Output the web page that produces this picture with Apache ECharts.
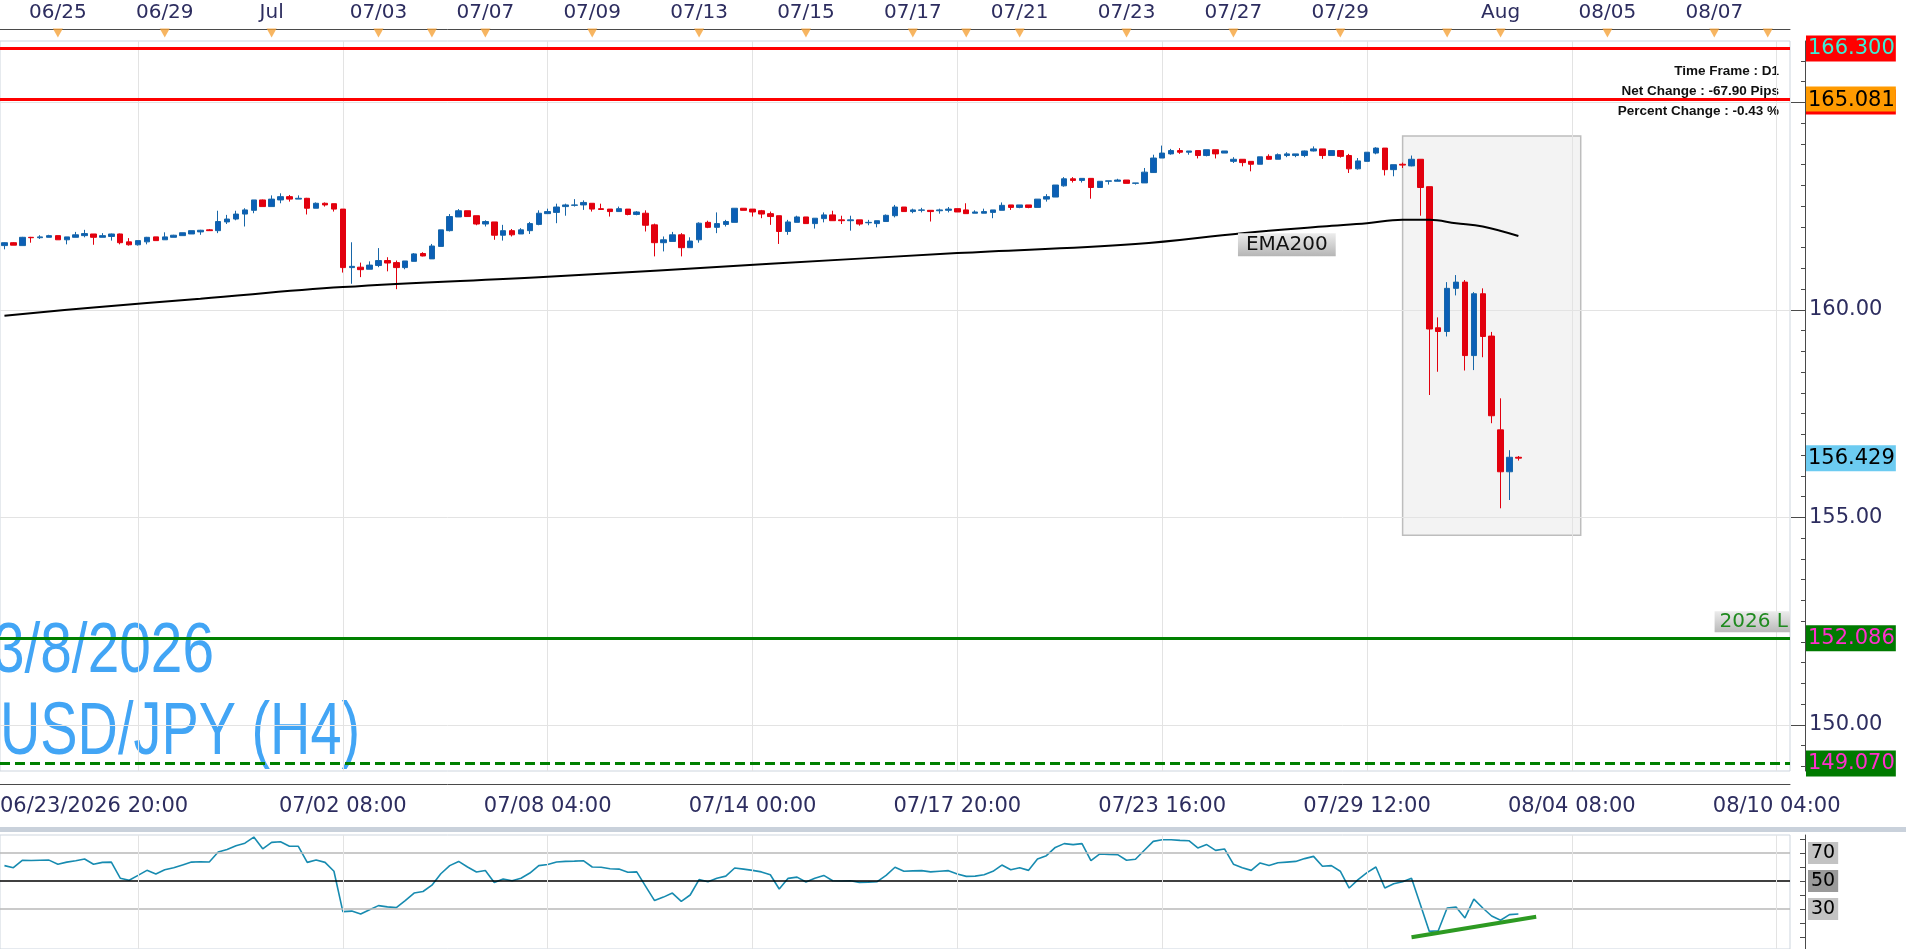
<!DOCTYPE html>
<html>
<head>
<meta charset="utf-8">
<script src="https://cdn.jsdelivr.net/npm/echarts@6/dist/echarts.min.js"></script>
</head>
<body style="margin:0; background:#fff">
<div id="chart" style="width:1906px; height:949px"></div>
<script type="text/javascript">

// ---- bar slots (H4 bars, one per slot) ----
var barCount = 201;
var categories = [];
for (var i = 0; i < barCount; i++) {
    categories.push(String(i));
}

// bottom time axis
var bottomTickIdx = [15, 38, 61, 84, 107, 130, 153, 176, 199];
var bottomTickText = ['06/23/2026 20:00', '07/02 08:00', '07/08 04:00', '07/14 00:00',
    '07/17 20:00', '07/23 16:00', '07/29 12:00', '08/04 08:00', '08/10 04:00'];

// top (daily) axis
var topTickIdx = [6, 18, 30, 42, 54, 66, 78, 90, 102, 114, 126, 138, 150, 168, 180, 192];
var topTickText = ['06/25', '06/29', 'Jul', '07/03', '07/07', '07/09', '07/13', '07/15',
    '07/17', '07/21', '07/23', '07/27', '07/29', 'Aug', '08/05', '08/07'];
var topMarkIdx = [6, 18, 30, 42, 48, 54, 66, 78, 90, 102, 108, 114, 126, 138, 150, 162, 168, 180, 192, 198];

// price axis
var priceMajor = [150, 155, 160, 165];
var priceLabels = [150, 155, 160];
var priceMinor = [149, 149.5, 150, 150.5, 151, 151.5, 152, 152.5, 153, 153.5, 154, 154.5,
    155, 155.5, 156, 156.5, 157, 157.5, 158, 158.5, 159, 159.5, 160, 160.5, 161, 161.5,
    162, 162.5, 163, 163.5, 164, 164.5, 165, 165.5, 166];

// price levels with their boxes on the right
var levelValues = [166.3, 165.081, 156.429, 152.086, 149.07];
var levelText = ['166.300', '165.081', '156.429', '152.086', '149.070'];
var levelKey = ['red', 'orange', 'blue', 'green', 'green'];

// highlight box (bar slots / prices)
var boxIdx = [157, 177];
var boxPrice = [164.19, 154.57];

// [open, close, low, high]
var candles = [
    [161.55, 161.62, 161.46, 161.63], [161.62, 161.56, 161.56, 161.63], [161.55, 161.75, 161.55, 161.76],
    [161.75, 161.74, 161.62, 161.76], [161.74, 161.76, 161.71, 161.80], [161.75, 161.79, 161.75, 161.81],
    [161.79, 161.69, 161.69, 161.79], [161.69, 161.76, 161.58, 161.76], [161.75, 161.81, 161.75, 161.88],
    [161.79, 161.84, 161.75, 161.93], [161.83, 161.75, 161.57, 161.83], [161.75, 161.79, 161.75, 161.85],
    [161.77, 161.83, 161.67, 161.84], [161.83, 161.62, 161.58, 161.84], [161.64, 161.57, 161.55, 161.73],
    [161.57, 161.67, 161.55, 161.67], [161.64, 161.75, 161.58, 161.76], [161.76, 161.67, 161.67, 161.76],
    [161.69, 161.76, 161.69, 161.87], [161.75, 161.80, 161.75, 161.81], [161.79, 161.86, 161.79, 161.86],
    [161.83, 161.91, 161.83, 161.91], [161.88, 161.92, 161.81, 161.93], [161.93, 161.91, 161.91, 161.95],
    [161.91, 162.13, 161.85, 162.39], [162.12, 162.19, 162.07, 162.29], [162.19, 162.31, 162.16, 162.39],
    [162.31, 162.41, 162.01, 162.45], [162.40, 162.65, 162.33, 162.65], [162.65, 162.49, 162.49, 162.66],
    [162.49, 162.67, 162.49, 162.76], [162.65, 162.73, 162.57, 162.81], [162.73, 162.67, 162.61, 162.77],
    [162.67, 162.69, 162.67, 162.76], [162.69, 162.45, 162.30, 162.70], [162.45, 162.57, 162.45, 162.59],
    [162.57, 162.53, 162.49, 162.59], [162.56, 162.43, 162.37, 162.56], [162.43, 161.02, 160.90, 162.43],
    [161.02, 161.05, 160.63, 161.63], [161.03, 160.97, 160.79, 161.14], [160.98, 161.08, 160.98, 161.17],
    [161.07, 161.19, 161.03, 161.49], [161.19, 161.13, 160.93, 161.27], [161.14, 161.02, 160.50, 161.19],
    [161.02, 161.18, 160.98, 161.18], [161.17, 161.35, 161.17, 161.37], [161.36, 161.30, 161.29, 161.39],
    [161.23, 161.54, 161.23, 161.59], [161.53, 161.93, 161.53, 161.93], [161.91, 162.25, 161.89, 162.31],
    [162.24, 162.39, 162.24, 162.43], [162.39, 162.25, 162.25, 162.39], [162.27, 162.07, 162.04, 162.27],
    [162.07, 162.13, 162.01, 162.16], [162.12, 161.80, 161.69, 162.12], [161.80, 161.91, 161.67, 162.05],
    [161.91, 161.81, 161.77, 161.95], [161.83, 161.93, 161.83, 161.97], [161.91, 162.08, 161.83, 162.12],
    [162.06, 162.33, 162.04, 162.40], [162.32, 162.37, 162.31, 162.44], [162.35, 162.48, 162.09, 162.56],
    [162.49, 162.53, 162.27, 162.56], [162.52, 162.53, 162.49, 162.67], [162.53, 162.59, 162.41, 162.64],
    [162.57, 162.43, 162.37, 162.57], [162.44, 162.42, 162.42, 162.56], [162.43, 162.37, 162.25, 162.43],
    [162.37, 162.44, 162.37, 162.49], [162.43, 162.30, 162.28, 162.43], [162.30, 162.36, 162.28, 162.38],
    [162.33, 162.04, 161.89, 162.40], [162.05, 161.62, 161.29, 162.08], [161.62, 161.69, 161.41, 161.77],
    [161.65, 161.81, 161.65, 161.88], [161.81, 161.50, 161.29, 161.85], [161.50, 161.66, 161.50, 161.75],
    [161.69, 162.09, 161.62, 162.11], [162.11, 161.99, 161.97, 162.15], [161.99, 162.08, 161.85, 162.35],
    [162.06, 162.13, 162.01, 162.17], [162.11, 162.45, 162.11, 162.45], [162.45, 162.40, 162.40, 162.45],
    [162.43, 162.36, 162.25, 162.43], [162.39, 162.31, 162.21, 162.41], [162.32, 162.25, 162.05, 162.37],
    [162.27, 161.89, 161.59, 162.27], [161.89, 162.12, 161.81, 162.17], [162.11, 162.24, 162.11, 162.27],
    [162.24, 162.08, 162.08, 162.24], [162.08, 162.21, 161.96, 162.21], [162.20, 162.29, 162.11, 162.35],
    [162.29, 162.15, 162.15, 162.39], [162.17, 162.15, 162.07, 162.27], [162.15, 162.17, 161.91, 162.27],
    [162.17, 162.07, 162.03, 162.17], [162.10, 162.11, 162.04, 162.17], [162.08, 162.15, 161.99, 162.15],
    [162.13, 162.28, 162.13, 162.30], [162.27, 162.48, 162.23, 162.53], [162.48, 162.37, 162.37, 162.48],
    [162.37, 162.41, 162.33, 162.44], [162.40, 162.41, 162.35, 162.46], [162.40, 162.37, 162.13, 162.40],
    [162.39, 162.41, 162.32, 162.44], [162.40, 162.43, 162.35, 162.48], [162.44, 162.36, 162.36, 162.44],
    [162.41, 162.32, 162.32, 162.57], [162.33, 162.36, 162.33, 162.40], [162.33, 162.37, 162.33, 162.44],
    [162.35, 162.41, 162.21, 162.41], [162.40, 162.52, 162.40, 162.59], [162.53, 162.47, 162.41, 162.53],
    [162.47, 162.53, 162.45, 162.53], [162.53, 162.47, 162.45, 162.53], [162.47, 162.67, 162.47, 162.67],
    [162.67, 162.73, 162.61, 162.79], [162.72, 163.01, 162.72, 163.01], [162.99, 163.16, 162.97, 163.20],
    [163.16, 163.12, 163.07, 163.20], [163.12, 163.17, 163.07, 163.17], [163.17, 162.95, 162.68, 163.17],
    [162.95, 163.10, 162.95, 163.10], [163.10, 163.11, 163.02, 163.11], [163.10, 163.13, 163.10, 163.16],
    [163.13, 163.05, 163.05, 163.13], [163.05, 163.06, 163.02, 163.06], [163.06, 163.32, 163.06, 163.42],
    [163.31, 163.66, 163.30, 163.74], [163.66, 163.78, 163.66, 163.96], [163.76, 163.84, 163.74, 163.88],
    [163.84, 163.80, 163.76, 163.90], [163.80, 163.83, 163.74, 163.83], [163.84, 163.72, 163.65, 163.84],
    [163.72, 163.86, 163.70, 163.86], [163.86, 163.76, 163.65, 163.86], [163.78, 163.83, 163.78, 163.83],
    [163.58, 163.63, 163.54, 163.68], [163.63, 163.55, 163.46, 163.63], [163.58, 163.51, 163.34, 163.58],
    [163.51, 163.69, 163.51, 163.69], [163.70, 163.63, 163.62, 163.75], [163.63, 163.74, 163.63, 163.77],
    [163.72, 163.76, 163.68, 163.80], [163.72, 163.76, 163.68, 163.76], [163.72, 163.83, 163.68, 163.84],
    [163.83, 163.88, 163.82, 163.94], [163.88, 163.72, 163.64, 163.88], [163.72, 163.84, 163.72, 163.84],
    [163.84, 163.70, 163.67, 163.84], [163.72, 163.40, 163.30, 163.76], [163.40, 163.59, 163.38, 163.66],
    [163.58, 163.80, 163.58, 163.80], [163.78, 163.90, 163.75, 163.92], [163.90, 163.38, 163.24, 163.90],
    [163.38, 163.50, 163.22, 163.50], [163.51, 163.49, 163.42, 163.55], [163.47, 163.63, 163.46, 163.72],
    [163.63, 162.95, 162.27, 163.63], [162.97, 159.54, 157.95, 162.97], [159.57, 159.48, 158.51, 159.82],
    [159.48, 160.52, 159.36, 160.67], [160.52, 160.67, 160.35, 160.84], [160.67, 158.90, 158.54, 160.72],
    [158.90, 160.39, 158.55, 160.43], [160.39, 159.36, 158.86, 160.52], [159.37, 157.45, 157.27, 159.47],
    [157.11, 156.10, 155.22, 157.87], [156.10, 156.45, 155.42, 156.62], [156.45, 156.429, 156.37, 156.48]
];

// EMA200: bar slot / value
var emaIdx = [0, 10, 22, 38, 61, 86, 107, 127, 139, 148, 153, 157, 160, 163, 166, 170];
var emaVal = [159.86, 160.06, 160.27, 160.55, 160.80, 161.11, 161.37, 161.59, 161.85, 162.01,
    162.09, 162.17, 162.17, 162.09, 162.01, 161.78];
var emaLabelAt = [144, 161.57];

// RSI, one value per bar
var rsi = [
    61, 59.5, 64.8, 64.6, 64.8, 64.9, 62, 63.5, 64.5, 65.7,
    62, 63.3, 63.5, 52, 50.5, 54, 57.6, 55, 58, 59.5,
    61.5, 63.5, 63.8, 63.6, 70.7, 72.5, 75.2, 77, 81.4, 73,
    77.6, 78, 74.8, 74.8, 63.3, 65, 63.3, 57, 28.1, 28.5,
    26.4, 29.5, 32.4, 31.5, 31, 36, 41.4, 42.5, 47, 55.2,
    61, 64, 60, 56.4, 57.5, 49, 51.4, 50.2, 52, 55.7,
    61, 61.8, 63.6, 64, 64.2, 64.5, 60, 59.8, 58.8, 58.5,
    56.2, 56.5, 46.2, 36, 38.5, 41.4, 35.5, 40, 51, 49.5,
    52, 53.5, 59.3, 58.5, 57.6, 56.5, 54.5, 44.3, 51.9, 52.8,
    49.3, 52, 54, 50.2, 50, 50.2, 49, 49.2, 49.5, 54,
    59.8, 57, 57.2, 57.4, 56.5, 57, 57.4, 55, 53.3, 53.5,
    54.5, 56.9, 61.4, 58, 59.5, 57.6, 65.7, 68.1, 74, 76.7,
    76, 76.7, 64.5, 69.3, 69, 68.8, 64.8, 65.5, 72, 78.3,
    79.5, 79.5, 79, 78.8, 73.6, 76, 71.9, 72.9, 62, 59.5,
    57.6, 62.9, 61, 63, 63.5, 64, 66, 67.6, 60.5, 61,
    57, 45, 51, 56, 60, 45, 48, 49.5, 52, 33,
    14, 14.5, 30.7, 31.4, 23.6, 37.1, 30.7, 25, 22, 26,
    26.4
];
var rsiLevels = [70, 50, 30];
var rsiTicks = [10, 20, 30, 40, 50, 60, 70, 80];
var rsiTrendIdx = [158, 172];
var rsiTrendVal = [9.8, 24.5];

var axisFont = 'DejaVu Sans';
var axisColor = '#2d2d5f';

function inList(list) {
    return function (index) { return list.indexOf(index) >= 0; };
}
function bottomMinor(index) {
    var r = ((index - 15) % 23 + 23) % 23;
    return r !== 0 && r % 3 === 0;
}
function topMinor(index) {
    return index % 2 === 1;
}
function grayGrad(a, b) {
    return new echarts.graphic.LinearGradient(0, 0, 0, 1, [
        {offset: 0, color: a}, {offset: 1, color: b}
    ]);
}

var vGrid = bottomTickIdx.map(function (k) {
    return {xAxis: k, lineStyle: {color: '#e3e3e3', width: 1, type: 'solid'}};
});
var hGrid = priceMajor.map(function (v) {
    return {yAxis: v, lineStyle: {color: '#e3e3e3', width: 1, type: 'solid'}};
});

var dom = document.getElementById('chart');
var myChart = echarts.init(dom);

var option = {
    animation: false,
    backgroundColor: '#ffffff',
    grid: [
        {left: 0, right: 116, top: 41, height: 730, show: true, borderColor: '#cdd5de', borderWidth: 1,
            outerBoundsMode: 'none', containLabel: false},
        {left: 0, right: 116, top: 835, height: 114, show: true, borderColor: '#cdd5de', borderWidth: 1,
            outerBoundsMode: 'none', containLabel: false},
        {left: 0, right: 116, top: 29, height: 12, outerBoundsMode: 'none', containLabel: false}
    ],
    xAxis: [
        {
            gridIndex: 0, type: 'category', data: categories, position: 'bottom', offset: 13,
            axisLine: {onZero: false, lineStyle: {color: '#4a4a4a'}},
            axisTick: {inside: true, length: 13, alignWithLabel: true, interval: inList(bottomTickIdx),
                lineStyle: {color: '#4a4a4a'}},
            axisLabel: {
                interval: inList(bottomTickIdx), margin: 12,
                fontFamily: axisFont, fontSize: 21, color: axisColor,
                formatter: function (value, index) {
                    var j = bottomTickIdx.indexOf(index);
                    if (j < 0) return '';
                    return j === 0 ? '{first|' + bottomTickText[j] + '}' : bottomTickText[j];
                },
                rich: {
                    first: {fontFamily: axisFont, fontSize: 21, color: axisColor, padding: [0, 88, 0, 0]}
                }
            },
            splitLine: {show: false}
        },
        {
            gridIndex: 0, type: 'category', data: categories, position: 'bottom', offset: 13,
            axisLine: {show: false, onZero: false},
            axisTick: {inside: true, length: 6, alignWithLabel: true, interval: bottomMinor,
                lineStyle: {color: '#4a4a4a'}},
            axisLabel: {show: false},
            splitLine: {show: false}
        },
        {gridIndex: 1, type: 'category', data: categories, show: false},
        {
            gridIndex: 2, type: 'category', data: categories, position: 'top',
            axisLine: {onZero: false, lineStyle: {color: '#4a4a4a'}},
            axisTick: {inside: true, length: 12, alignWithLabel: true, interval: inList(topMarkIdx),
                lineStyle: {color: '#4a4a4a'}},
            axisLabel: {
                interval: inList(topTickIdx), margin: 6,
                fontFamily: axisFont, fontSize: 20, color: axisColor,
                formatter: function (value, index) {
                    var j = topTickIdx.indexOf(index);
                    return j < 0 ? '' : topTickText[j];
                }
            },
            splitLine: {show: false}
        },
        {
            gridIndex: 2, type: 'category', data: categories, position: 'top',
            axisLine: {show: false, onZero: false},
            axisTick: {inside: true, length: 4, alignWithLabel: true, interval: topMinor,
                lineStyle: {color: '#4a4a4a'}},
            axisLabel: {show: false},
            splitLine: {show: false}
        }
    ],
    yAxis: [
        {
            gridIndex: 0, type: 'value', position: 'right', offset: 15, min: 148.89, max: 166.48,
            axisLine: {show: true, lineStyle: {color: '#4a4a4a'}},
            axisTick: {show: true, inside: true, length: 14, customValues: priceMajor, lineStyle: {color: '#4a4a4a'}},
            axisLabel: {
                customValues: priceLabels, margin: 4,
                fontFamily: axisFont, fontSize: 21, color: axisColor,
                formatter: function (v) { return v.toFixed(2); }
            },
            splitLine: {show: false}
        },
        {
            gridIndex: 0, type: 'value', position: 'right', offset: 15, min: 148.89, max: 166.48,
            axisLine: {show: false},
            axisTick: {show: true, inside: true, length: 4, customValues: priceMinor, lineStyle: {color: '#4a4a4a'}},
            axisLabel: {show: false},
            splitLine: {show: false}
        },
        {
            gridIndex: 0, type: 'value', position: 'right', offset: 15, min: 148.89, max: 166.48,
            axisLine: {show: false},
            axisTick: {show: false},
            axisLabel: {
                customValues: levelValues, margin: 1,
                formatter: function (v) {
                    for (var j = 0; j < levelValues.length; j++) {
                        if (Math.abs(levelValues[j] - v) < 1e-6) {
                            return '{' + levelKey[j] + '|' + levelText[j] + '}';
                        }
                    }
                    return '';
                },
                rich: {
                    red: {backgroundColor: '#ff0000', color: '#3cefd6', fontFamily: axisFont, fontSize: 21,
                        lineHeight: 23, padding: [3, 1, 2, 2]},
                    orange: {backgroundColor: '#ff9a00', color: '#000000', fontFamily: axisFont, fontSize: 21,
                        lineHeight: 23, padding: [3, 1, 1, 2], borderColor: '#ff0000',
                        shadowColor: '#ff0000', shadowOffsetY: 3},
                    blue: {backgroundColor: '#6ccbf1', color: '#000000', fontFamily: axisFont, fontSize: 21,
                        lineHeight: 23, padding: [3, 1, 2, 2]},
                    green: {backgroundColor: '#007a00', color: '#ff30cc', fontFamily: axisFont, fontSize: 21,
                        lineHeight: 23, padding: [3, 1, 2, 2]}
                }
            },
            splitLine: {show: false}
        },
        {
            gridIndex: 1, type: 'value', position: 'right', offset: 15, min: 1.43, max: 82.86,
            axisLine: {show: true, lineStyle: {color: '#4a4a4a'}},
            axisTick: {show: true, inside: true, length: 5, customValues: rsiTicks, lineStyle: {color: '#4a4a4a'}},
            axisLabel: {
                customValues: rsiLevels, margin: 3,
                formatter: function (v) {
                    return (v === 50 ? '{dark|' : '{light|') + v + '}';
                },
                rich: {
                    light: {backgroundColor: '#c3c3c3', color: '#000', fontFamily: axisFont, fontSize: 19,
                        lineHeight: 21, padding: [2, 3, 1, 3]},
                    dark: {backgroundColor: '#9a9a9a', color: '#000', fontFamily: axisFont, fontSize: 19,
                        lineHeight: 21, padding: [2, 3, 1, 3]}
                }
            },
            splitLine: {show: false}
        },
        {gridIndex: 2, type: 'value', min: 0, max: 12, inverse: true, show: false}
    ],
    graphic: [
        {type: 'rect', silent: true, shape: {x: 0, y: 827, width: 1906, height: 5}, style: {fill: '#c9d1db'}},
        {
            type: 'text', silent: true, x: 1779, y: 61,
            style: {
                text: 'Time Frame : D1\nNet Change : -67.90 Pips\nPercent Change : -0.43 %',
                align: 'right', verticalAlign: 'top', lineHeight: 20,
                font: 'bold 13.5px "Liberation Sans", Arial, sans-serif', fill: '#111111'
            }
        },
        {
            type: 'text', silent: true, x: 214, y: 652, scaleX: 0.8,
            style: {
                text: '3/8/2026', align: 'right', verticalAlign: 'middle',
                font: '71px "Liberation Sans", Arial, sans-serif', fill: '#42a5f5'
            }
        },
        {
            type: 'text', silent: true, x: 0, y: 734, scaleX: 0.755,
            style: {
                text: 'USD/JPY (H4)', align: 'left', verticalAlign: 'middle',
                font: '74px "Liberation Sans", Arial, sans-serif', fill: '#42a5f5'
            }
        }
    ],
    series: [
        {
            name: 'gridlines', type: 'line', xAxisIndex: 0, yAxisIndex: 0, data: [],
            markLine: {
                silent: true, symbol: ['none', 'none'], z: 1, label: {show: false},
                data: vGrid.concat(hGrid)
            }
        },
        {
            name: 'USDJPY', type: 'candlestick', xAxisIndex: 0, yAxisIndex: 0,
            data: candles, barWidth: 6,
            itemStyle: {
                color: '#0b5fb6', color0: '#e2000e',
                borderColor: '#1766a8', borderColor0: '#e2000e', borderWidth: 1
            },
            markArea: {
                silent: true,
                itemStyle: {color: 'rgba(228,228,228,0.45)', borderColor: '#bdbdbd', borderWidth: 1.5},
                data: [[{xAxis: boxIdx[0], yAxis: boxPrice[0]}, {xAxis: boxIdx[1], yAxis: boxPrice[1]}]]
            },
            markLine: {
                silent: true, symbol: ['none', 'none'], z: 4, label: {show: false},
                data: [
                    {yAxis: levelValues[0], lineStyle: {color: '#ff0000', width: 3, type: 'solid'}},
                    {yAxis: levelValues[1], lineStyle: {color: '#ff0000', width: 3, type: 'solid'}},
                    {
                        yAxis: levelValues[3], lineStyle: {color: '#008000', width: 3, type: 'solid'},
                        label: {
                            show: true, position: 'insideEndTop', distance: [0, 6],
                            formatter: '2026 L', fontFamily: axisFont, fontSize: 20, color: '#1f8a1f',
                            backgroundColor: grayGrad('#ececec', '#b9b9b9'), padding: [1, 2, 0, 5]
                        }
                    },
                    {yAxis: levelValues[4], lineStyle: {color: '#008000', width: 3, type: [10, 5]}}
                ]
            }
        },
        {
            name: 'EMA200', type: 'line', xAxisIndex: 0, yAxisIndex: 0,
            data: emaIdx.map(function (k, j) { return [k, emaVal[j]]; }),
            smooth: 0.4, symbol: 'none',
            lineStyle: {color: '#000000', width: 2},
            markPoint: {
                silent: true, symbol: 'rect', symbolSize: 1,
                itemStyle: {color: 'rgba(0,0,0,0)'},
                data: [{
                    coord: emaLabelAt,
                    label: {
                        show: true, position: 'inside', formatter: 'EMA200',
                        fontFamily: axisFont, fontSize: 20, color: '#111111',
                        backgroundColor: grayGrad('#ececec', '#b5b5b5'), padding: [2, 8, 1, 8]
                    }
                }]
            }
        },
        {
            name: 'RSI', type: 'line', xAxisIndex: 2, yAxisIndex: 3,
            data: rsi, symbol: 'none',
            lineStyle: {color: '#178bb0', width: 1.6},
            markLine: {
                silent: true, symbol: ['none', 'none'], label: {show: false},
                data: [
                    {yAxis: rsiLevels[0], lineStyle: {color: '#b8b8b8', width: 1.5, type: 'solid'}},
                    {yAxis: rsiLevels[1], lineStyle: {color: '#000000', width: 1.5, type: 'solid'}},
                    {yAxis: rsiLevels[2], lineStyle: {color: '#b8b8b8', width: 1.5, type: 'solid'}}
                ].concat(vGrid)
            }
        },
        {
            name: 'RSI trend', type: 'line', xAxisIndex: 2, yAxisIndex: 3,
            data: rsiTrendIdx.map(function (k, j) { return [k, rsiTrendVal[j]]; }),
            symbol: 'none', lineStyle: {color: '#2d9a22', width: 4}
        },
        {
            name: 'day marks', type: 'scatter', xAxisIndex: 3, yAxisIndex: 4, silent: true,
            data: topMarkIdx.map(function (k) { return [k, 4]; }),
            symbol: 'triangle', symbolRotate: 180, symbolSize: [10, 9],
            itemStyle: {color: '#f5a33a'}
        }
    ]
};

myChart.setOption(option);

</script>
</body>
</html>
